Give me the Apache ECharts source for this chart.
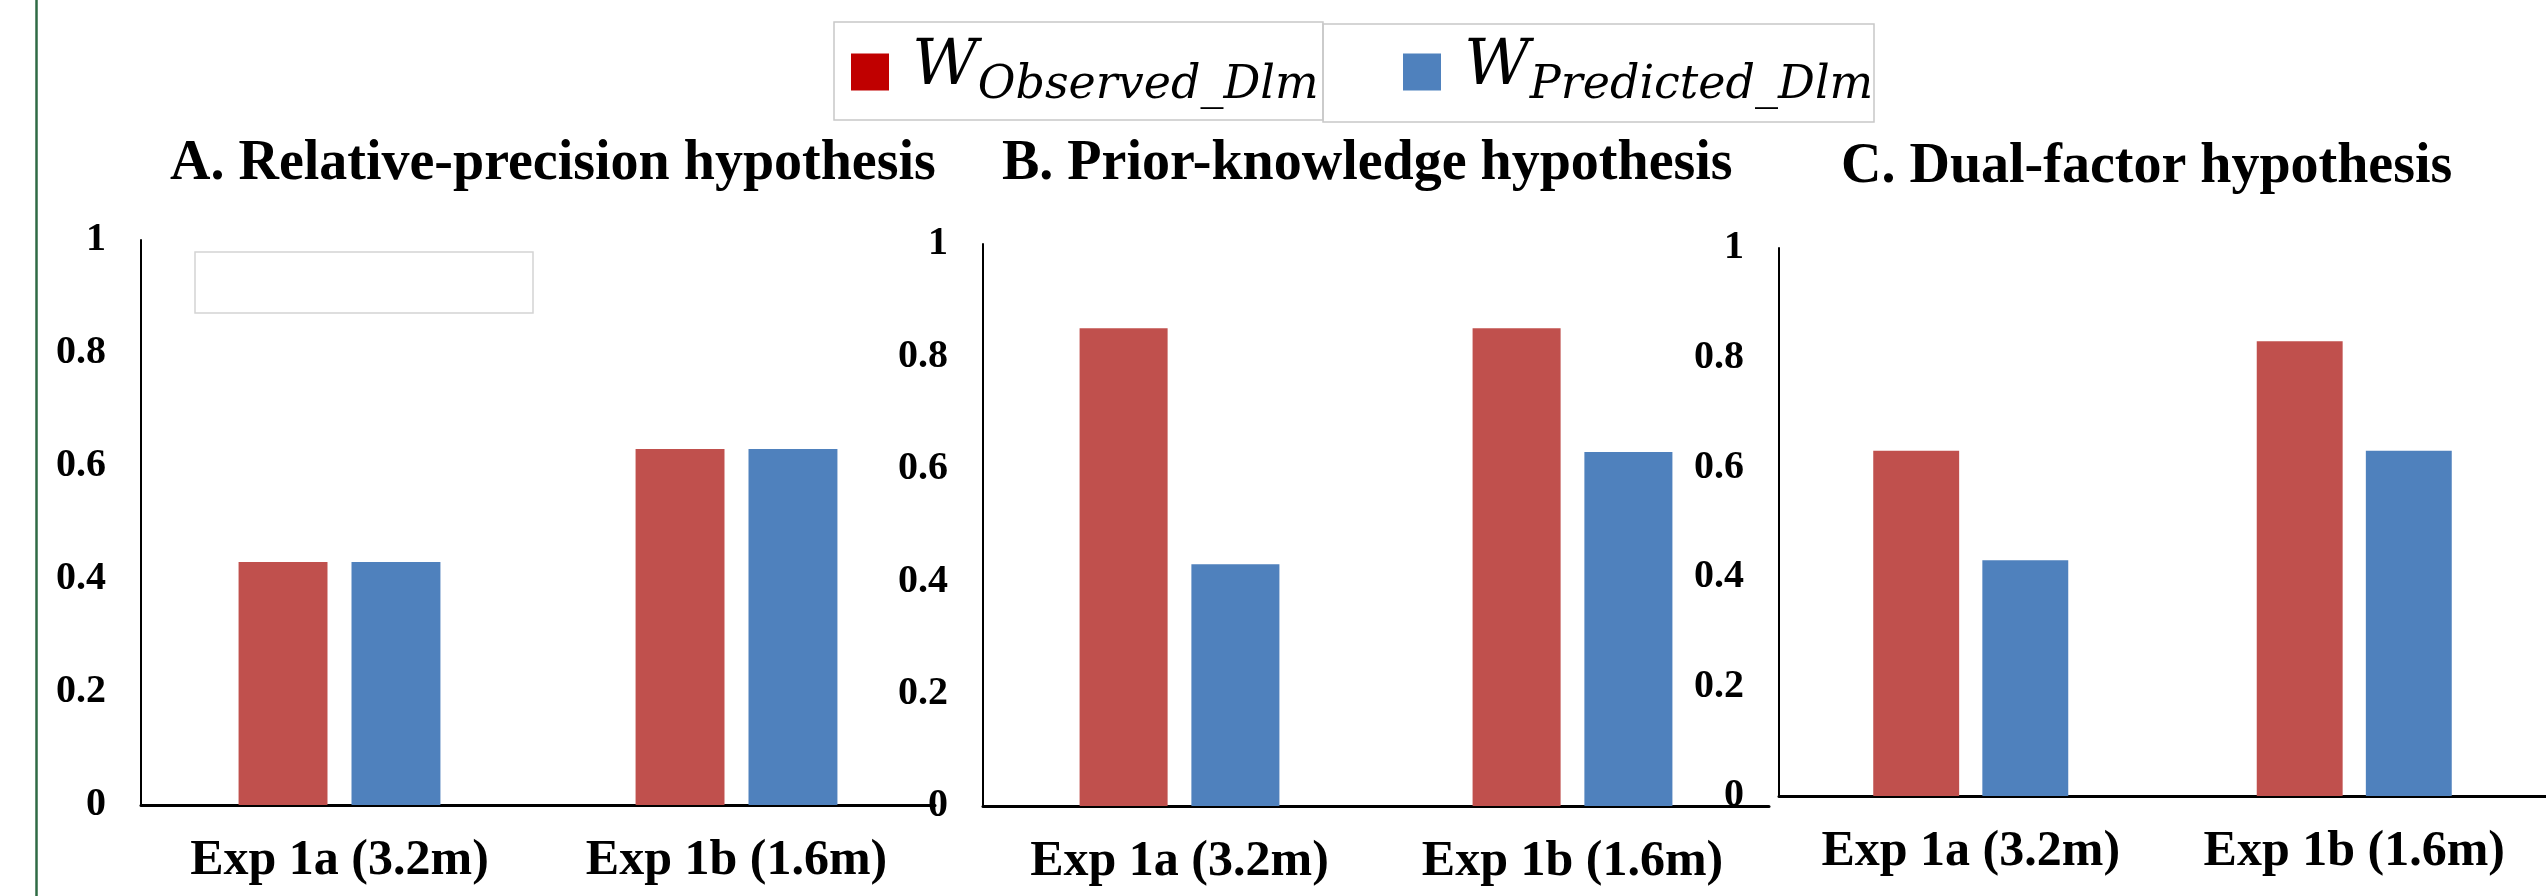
<!DOCTYPE html>
<html lang="en">

<head>
    <meta charset="UTF-8">
    <title>Hypotheses</title>
    <style>
        html,
        body {
            margin: 0;
            padding: 0;
            background: #fff;
        }

        .mychart {
            width: 2546px;
            height: 896px;
        }
    </style>
</head>

<body>
    <div class="mychart"></div>
</body>
<script src="https://cdn.jsdelivr.net/npm/echarts@6/dist/echarts.min.js"></script>
<script>
    // categories and panel titles
    const categories = ['Exp 1a (3.2m)', 'Exp 1b (1.6m)']
    const panelTitles = ['A. Relative-precision hypothesis', 'B. Prior-knowledge hypothesis', 'C. Dual-factor hypothesis']
    const seriesNames = ['W_Observed_Dlm', 'W_Predicted_Dlm']
    const yTickLabels = ['0', '0.2', '0.4', '0.6', '0.8', '1']

    // values per panel (observed, predicted)
    const observedA = [0.43, 0.63]
    const predictedA = [0.43, 0.63]
    const observedB = [0.85, 0.85]
    const predictedB = [0.43, 0.63]
    const observedC = [0.63, 0.83]
    const predictedC = [0.43, 0.63]

    const mychartDom = document.querySelector('.mychart')
    const myChart = echarts.init(mychartDom)

    const serif = "'Times New Roman', 'Liberation Serif', serif"
    const redBar = '#C0504D'
    const blueBar = '#4F81BD'

    // grid boxes for each panel
    const grids = [
        { left: 141, top: 240, width: 794, height: 565 },
        { left: 983, top: 244, width: 786, height: 562 },
        { left: 1779, top: 248, width: 808, height: 548 }
    ]
    const titlePos = [[165, 132], [997, 132], [1836, 135]]
    const observed = [observedA, observedB, observedC]
    const predicted = [predictedA, predictedB, predictedC]

    const xAxis = grids.map((g, i) => ({
        type: 'category',
        gridIndex: i,
        data: categories,
        axisTick: { show: false },
        axisLine: { lineStyle: { color: '#000', width: 3 } },
        axisLabel: {
            interval: 0,
            hideOverlap: false,
            margin: 31,
            color: '#000',
            fontFamily: serif,
            fontWeight: 'bold',
            fontSize: 50
        }
    }))

    const yAxis = grids.map((g, i) => ({
        type: 'value',
        gridIndex: i,
        min: 0,
        max: 1,
        interval: 0.2,
        axisLine: { show: true, lineStyle: { color: '#000', width: 2 } },
        axisTick: { show: false },
        splitLine: { show: false },
        axisLabel: {
            margin: 35,
            color: '#000',
            fontFamily: serif,
            fontWeight: 'bold',
            fontSize: 40,
            formatter: (v, idx) => yTickLabels[idx]
        }
    }))

    const series = []
    grids.forEach((g, i) => {
        series.push({
            type: 'bar',
            name: seriesNames[0],
            xAxisIndex: i,
            yAxisIndex: i,
            data: observed[i],
            barWidth: '22.4%',
            barGap: '27%',
            itemStyle: { color: redBar },
            emphasis: { disabled: true }
        })
        series.push({
            type: 'bar',
            name: seriesNames[1],
            xAxisIndex: i,
            yAxisIndex: i,
            data: predicted[i],
            barWidth: '22.4%',
            barGap: '27%',
            itemStyle: { color: blueBar },
            emphasis: { disabled: true }
        })
    })

    // legend text: big italic W with a lowered subscript
    const legendText = {
        color: '#000',
        rich: {
            w: {
                fontFamily: 'DejaVu Serif',
                fontStyle: 'italic',
                fontSize: 64,
                verticalAlign: 'bottom',
                padding: [0, 0, 10, 18]
            },
            s: {
                fontFamily: 'DejaVu Serif',
                fontStyle: 'italic',
                fontSize: 46,
                verticalAlign: 'bottom'
            }
        }
    }
    const legendFmt = name => '{w|W}{s|' + name.slice(2) + '}'

    const config = {
        backgroundColor: '#fff',
        animation: false,
        title: panelTitles.map((t, i) => ({
            text: t,
            left: titlePos[i][0],
            top: titlePos[i][1],
            textStyle: {
                color: '#000',
                fontFamily: serif,
                fontWeight: 'bold',
                fontSize: 56
            }
        })),
        legend: [{
            left: 846,
            top: 30,
            itemWidth: 38,
            itemHeight: 37,
            icon: 'rect',
            selectedMode: false,
            data: [{ name: seriesNames[0], itemStyle: { color: '#C00000' } }],
            formatter: legendFmt,
            textStyle: legendText
        }, {
            left: 1398,
            top: 30,
            itemWidth: 38,
            itemHeight: 37,
            icon: 'rect',
            selectedMode: false,
            data: [{ name: seriesNames[1], itemStyle: { color: blueBar } }],
            formatter: legendFmt,
            textStyle: legendText
        }],
        grid: grids,
        xAxis: xAxis,
        yAxis: yAxis,
        series: series,
        graphic: [
            // left page rule
            {
                type: 'line',
                shape: { x1: 36.5, y1: 0, x2: 36.5, y2: 896 },
                style: { stroke: '#2F6B45', lineWidth: 2.5 }
            },
            // legend frames
            {
                type: 'rect',
                shape: { x: 834, y: 22, width: 489, height: 98 },
                style: { fill: 'none', stroke: '#c8c8c8', lineWidth: 1.5 }
            },
            {
                type: 'rect',
                shape: { x: 1323, y: 24, width: 551, height: 98 },
                style: { fill: 'none', stroke: '#c8c8c8', lineWidth: 1.5 }
            },
            // empty box inside panel A
            {
                type: 'rect',
                shape: { x: 195, y: 252, width: 338, height: 61 },
                style: { fill: 'none', stroke: '#d4d4d4', lineWidth: 1.5 }
            }
        ]
    }

    myChart.setOption(config)
</script>

</html>
